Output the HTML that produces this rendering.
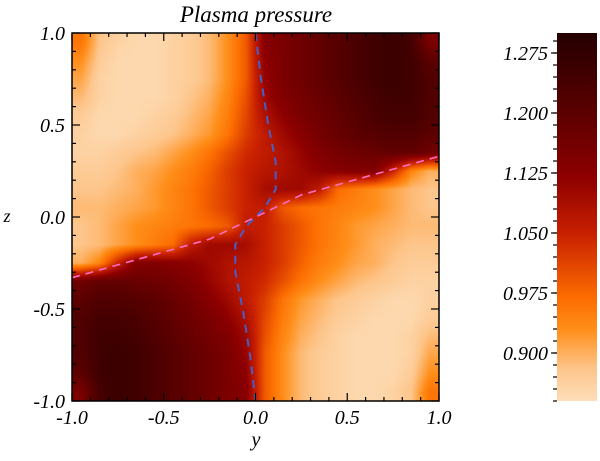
<!DOCTYPE html>
<html><head><meta charset="utf-8"><style>
html,body{margin:0;padding:0;background:#fff;}
#wrap{position:relative;width:600px;height:461px;overflow:hidden;}
svg text{font-family:"Liberation Serif",serif;font-style:italic;}
</style></head><body>
<div id="wrap">
<canvas id="heat" width="367" height="368" style="position:absolute;left:72px;top:33px;"></canvas>
<canvas id="cbar" width="40" height="368" style="position:absolute;left:557px;top:33px;"></canvas>
<svg id="svg" width="600" height="461" style="position:absolute;left:0;top:0;"></svg>
</div>
<script>
const yRange=[-1,1];
const zRange=[-1,1];
const cRange=[0.84,1.30];
const xTicks=[-1.0,-0.5,0.0,0.5,1.0];
const xTickLabels=["-1.0","-0.5","0.0","0.5","1.0"];
const zTicks=[-1.0,-0.5,0.0,0.5,1.0];
const zTickLabels=["-1.0","-0.5","0.0","0.5","1.0"];
const cTicks=[0.900,0.975,1.050,1.125,1.200,1.275];
const cTickLabels=["0.900","0.975","1.050","1.125","1.200","1.275"];
const pressure=[
[.96,.88,.86,.85,.85,.86,.87,.89,.93,.99,1.13,1.15,1.17,1.19,1.21,1.23,1.25,1.26,1.24,1.15],
[.93,.87,.85,.85,.85,.86,.87,.89,.93,.99,1.12,1.15,1.17,1.19,1.21,1.23,1.25,1.26,1.25,1.2],
[.91,.86,.85,.85,.85,.86,.87,.89,.93,.99,1.11,1.15,1.17,1.19,1.21,1.23,1.25,1.26,1.25,1.22],
[.89,.86,.85,.85,.85,.86,.88,.9,.94,1.0,1.1,1.14,1.16,1.18,1.2,1.22,1.24,1.25,1.25,1.22],
[.87,.85,.85,.85,.86,.87,.89,.91,.95,1.01,1.08,1.12,1.15,1.17,1.19,1.21,1.23,1.24,1.24,1.22],
[.86,.85,.85,.86,.87,.88,.9,.92,.96,1.02,1.06,1.1,1.13,1.16,1.18,1.2,1.21,1.22,1.22,1.2],
[.86,.86,.87,.88,.89,.91,.93,.96,1.0,1.04,1.06,1.08,1.11,1.14,1.16,1.17,1.18,1.19,1.19,1.17],
[.87,.87,.88,.9,.91,.93,.95,.98,1.02,1.05,1.07,1.08,1.1,1.12,1.13,1.14,1.14,1.05,.94,.9],
[.88,.88,.89,.9,.92,.94,.96,.99,1.02,1.05,1.09,1.1,1.1,1.06,.97,.95,.93,.91,.89,.88],
[.89,.89,.9,.91,.92,.94,.96,.99,1.02,1.05,1.06,.99,.97,.96,.95,.94,.93,.91,.89,.88],
[.88,.89,.91,.93,.94,.95,.96,.97,.99,1.06,1.05,1.02,.99,.96,.94,.92,.91,.9,.89,.89],
[.88,.89,.91,.93,.95,.97,1.06,1.1,1.1,1.09,1.05,1.02,.99,.96,.94,.92,.9,.89,.88,.88],
[.9,.94,1.05,1.14,1.14,1.13,1.12,1.1,1.08,1.07,1.05,1.02,.98,.95,.93,.91,.9,.88,.87,.87],
[1.17,1.19,1.19,1.18,1.17,1.16,1.14,1.11,1.08,1.06,1.04,1.0,.96,.93,.91,.89,.88,.87,.86,.86],
[1.2,1.22,1.22,1.21,1.2,1.18,1.16,1.13,1.1,1.06,1.02,.96,.92,.9,.88,.87,.86,.85,.85,.86],
[1.22,1.24,1.24,1.23,1.21,1.19,1.17,1.15,1.12,1.08,1.01,.95,.91,.89,.87,.86,.85,.85,.85,.87],
[1.22,1.25,1.25,1.24,1.22,1.2,1.18,1.16,1.14,1.1,1.0,.94,.9,.88,.86,.85,.85,.85,.86,.89],
[1.22,1.25,1.26,1.25,1.23,1.21,1.19,1.17,1.15,1.11,.99,.93,.89,.87,.86,.85,.85,.85,.86,.91],
[1.2,1.25,1.26,1.25,1.23,1.21,1.19,1.17,1.15,1.12,.99,.93,.89,.87,.86,.85,.85,.85,.87,.93],
[1.15,1.24,1.26,1.25,1.23,1.21,1.19,1.17,1.15,1.13,.99,.93,.89,.87,.86,.85,.85,.86,.88,.96]
];
const blueY=[0,0.03,0.07,0.11,0.11,0.05,0,-0.05,-0.11,-0.11,-0.07,-0.03,0];
const blueZ=[1,0.75,0.5,0.3,0.15,0.05,0,-0.05,-0.15,-0.3,-0.5,-0.75,-1];
const pinkY=[-1,-0.5,-0.25,0,0.25,0.5,1];
const pinkZ=[-0.33,-0.19,-0.12,0,0.12,0.19,0.33];

const PL=72,PR=439,PT=33,PB=401;
const CL=557,CR=597;
function sx(v){return PL+(v-yRange[0])/(yRange[1]-yRange[0])*(PR-PL);}
function sz(v){return PB-(v-zRange[0])/(zRange[1]-zRange[0])*(PB-PT);}
function sc(v){return PB-(v-cRange[0])/(cRange[1]-cRange[0])*(PB-PT);}

const stops=[[0.84,[253,222,185]],[0.88,[253,198,140]],[0.93,[255,142,25]],[0.97,[252,108,0]],[1.05,[200,32,0]],[1.12,[142,0,0]],[1.20,[92,0,0]],[1.30,[36,0,0]]];
function cmap(v){
  if(v<=stops[0][0])return stops[0][1];
  for(let i=1;i<stops.length;i++){
    if(v<=stops[i][0]){const a=stops[i-1],b=stops[i];const t=(v-a[0])/(b[0]-a[0]);
      return a[1].map((x,k)=>Math.round(x+(b[1][k]-x)*t));}
  }
  return stops[stops.length-1][1];
}
(function(){
  const rows=pressure.length,cols=pressure[0].length;
  const W=PR-PL,H=PB-PT;
  const h=document.getElementById('heat').getContext('2d');
  const img=h.createImageData(W,H);
  for(let py=0;py<H;py++){
    let fr=(py+0.5)/H*rows-0.5;fr=Math.max(0,Math.min(rows-1,fr));
    const r0=Math.min(rows-2,Math.floor(fr));const tr=fr-r0;
    for(let px=0;px<W;px++){
      let fc=(px+0.5)/W*cols-0.5;fc=Math.max(0,Math.min(cols-1,fc));
      const c0=Math.min(cols-2,Math.floor(fc));const tc=fc-c0;
      const v=(pressure[r0][c0]*(1-tc)+pressure[r0][c0+1]*tc)*(1-tr)+(pressure[r0+1][c0]*(1-tc)+pressure[r0+1][c0+1]*tc)*tr;
      const col=cmap(v);const i=(py*W+px)*4;
      img.data[i]=col[0];img.data[i+1]=col[1];img.data[i+2]=col[2];img.data[i+3]=255;
    }
  }
  h.putImageData(img,0,0);
  const cb=document.getElementById('cbar').getContext('2d');
  for(let y=0;y<PB-PT;y++){const v=cRange[1]-(y+0.5)/(PB-PT)*(cRange[1]-cRange[0]);const c=cmap(v);
    cb.fillStyle='rgb('+c.join(',')+')';cb.fillRect(0,y,CR-CL,1);}
})();
const NS='http://www.w3.org/2000/svg';
const svg=document.getElementById('svg');
function el(tag,attrs,parent){const e=document.createElementNS(NS,tag);for(const k in attrs)e.setAttribute(k,attrs[k]);(parent||svg).appendChild(e);return e;}
let d='';blueY.forEach((v,i)=>{d+=(i?'L':'M')+sx(v).toFixed(1)+' '+sz(blueZ[i]).toFixed(1);});
const bl=el('path',{d:d,fill:'none',stroke:'#4a5cc8','stroke-width':2,'stroke-dasharray':'8 6'});


d='';pinkY.forEach((v,i)=>{d+=(i?'L':'M')+sx(v).toFixed(1)+' '+sz(pinkZ[i]).toFixed(1);});
const pk=el('path',{d:d,fill:'none',stroke:'#ff6cc8','stroke-width':1.6,'stroke-dasharray':'8 6'});


const fr=el('rect',{x:PL,y:PT,width:PR-PL,height:PB-PT,fill:'none',stroke:'#000','stroke-width':1.5});


for(let i=-10;i<=10;i++){
  const v=i/10;const major=(i%5===0);const L=major?8:4;
  const x=sx(v),z=sz(v);
  el('line',{x1:x,y1:PB,x2:x,y2:PB-L,stroke:'#000','stroke-width':1.2});
  el('line',{x1:x,y1:PT,x2:x,y2:PT+L,stroke:'#000','stroke-width':1.2});
  el('line',{x1:PL,y1:z,x2:PL+L,y2:z,stroke:'#000','stroke-width':1.2});
  el('line',{x1:PR,y1:z,x2:PR-L,y2:z,stroke:'#000','stroke-width':1.2});
}
xTicks.forEach((v,i)=>{const t=el('text',{x:sx(v),y:424,'text-anchor':'middle','font-size':20});t.textContent=xTickLabels[i];
  
  });
zTicks.forEach((v,i)=>{const t=el('text',{x:65,y:sz(v)+7,'text-anchor':'end','font-size':20});t.textContent=zTickLabels[i];
  
  });
let t=el('text',{x:256,y:446,'text-anchor':'middle','font-size':20});t.textContent='y';


t=el('text',{x:7,y:222,'text-anchor':'middle','font-size':18});t.textContent='z';


t=el('text',{x:256,y:22,'text-anchor':'middle','font-size':23});t.textContent='Plasma pressure';


for(let v=cRange[0];v<=cRange[1]+1e-9;v+=0.015){
  const y=sc(v);el('line',{x1:CL-4,y1:y,x2:CL,y2:y,stroke:'#000','stroke-width':1.2});
}
cTicks.forEach((v,i)=>{const y=sc(v);el('line',{x1:CL-6,y1:y,x2:CL,y2:y,stroke:'#000','stroke-width':1.2});
  const tt=el('text',{x:CL-9,y:y+7,'text-anchor':'end','font-size':20});tt.textContent=cTickLabels[i];
  
  });
</script>
</body></html>
